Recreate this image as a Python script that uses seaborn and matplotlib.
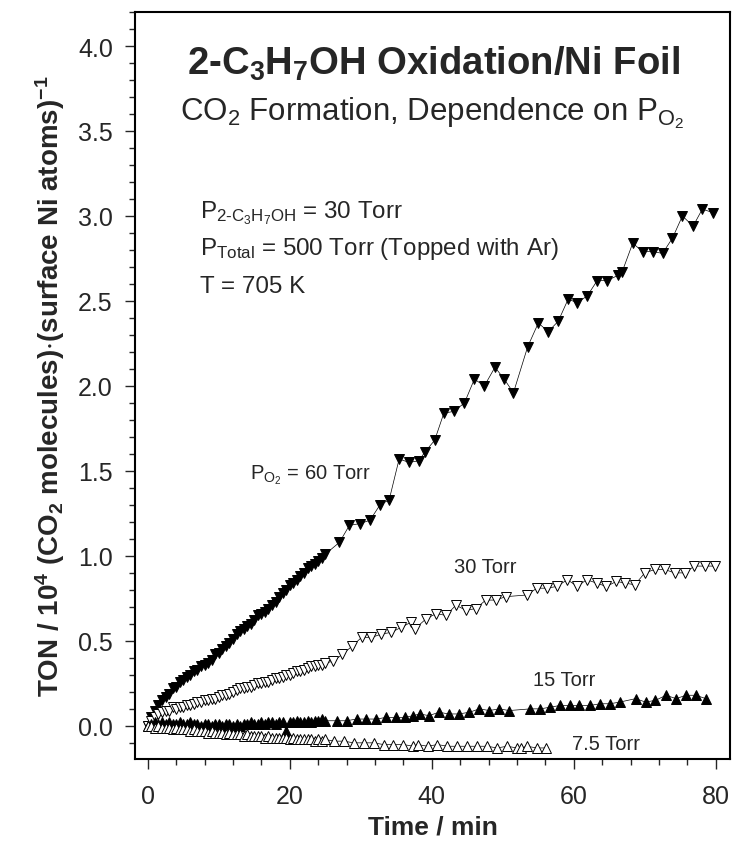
import pandas as pd
import matplotlib
matplotlib.use("Agg")
import matplotlib.pyplot as plt
import seaborn as sns
from matplotlib.ticker import MultipleLocator

# --- data (time in min, TON / 10^4) ---
t_dense = [0.0, 0.5, 1.0, 1.5, 2.0, 2.5, 3.0, 3.5, 4.0, 4.5, 5.0, 5.5, 6.0, 6.5, 7.0, 7.5,
           8.0, 8.5, 9.0, 9.5, 10.0, 10.5, 11.0, 11.5, 12.0, 12.5, 13.0, 13.5, 14.0, 14.5,
           15.0, 15.5, 16.0, 16.5, 17.0, 17.5, 18.0, 18.5, 19.0, 19.5, 20.0, 20.5, 21.0,
           21.5, 22.0, 22.5, 23.0, 23.5, 24.0, 24.5, 25.0]

# 60 Torr O2
v60_dense = [0.00, 0.05, 0.09, 0.12, 0.15, 0.17, 0.19, 0.22, 0.23, 0.26, 0.27, 0.29, 0.30, 0.32,
             0.33, 0.35, 0.36, 0.37, 0.39, 0.42, 0.43, 0.45, 0.47, 0.49, 0.51, 0.54, 0.56, 0.57,
             0.59, 0.60, 0.62, 0.65, 0.66, 0.67, 0.69, 0.71, 0.73, 0.76, 0.78, 0.80, 0.83, 0.84,
             0.86, 0.88, 0.90, 0.93, 0.94, 0.95, 0.97, 0.99, 1.01]
t60_late = [27.0, 28.4, 29.9, 31.3, 32.7, 34.0, 35.4, 36.8, 38.2, 39.0, 40.4, 41.7, 43.1, 44.6,
            46.0, 47.4, 48.9, 50.2, 51.5, 53.5, 55.0, 56.4, 57.8, 59.2, 60.5, 61.9, 63.3, 64.7,
            66.2, 66.8, 68.3, 69.7, 71.1, 72.5, 73.9, 75.3, 76.8, 78.1, 79.6]
v60_late = [1.08, 1.18, 1.19, 1.21, 1.30, 1.33, 1.57, 1.55, 1.56, 1.61, 1.68, 1.84, 1.85, 1.90,
            2.04, 2.00, 2.11, 2.04, 1.96, 2.23, 2.37, 2.32, 2.38, 2.51, 2.49, 2.53, 2.62, 2.62,
            2.65, 2.67, 2.84, 2.79, 2.79, 2.78, 2.87, 3.00, 2.94, 3.04, 3.02]

# 30 Torr O2
v30_dense = [0.00, 0.03, 0.05, 0.07, 0.08, 0.09, 0.09, 0.11, 0.10, 0.11, 0.11, 0.12, 0.12, 0.13,
             0.14, 0.14, 0.15, 0.15, 0.16, 0.16, 0.17, 0.18, 0.18, 0.19, 0.20, 0.21, 0.22, 0.22,
             0.23, 0.23, 0.24, 0.25, 0.25, 0.26, 0.26, 0.27, 0.28, 0.28, 0.29, 0.30, 0.30, 0.31,
             0.32, 0.32, 0.33, 0.34, 0.35, 0.35, 0.36, 0.36, 0.37]
t30_late = [26.1, 27.4, 28.8, 30.1, 31.5, 32.9, 34.3, 35.7, 37.1, 37.6, 39.2, 40.6, 42.0, 43.4,
            44.8, 46.2, 47.6, 49.0, 50.4, 53.4, 54.8, 56.2, 57.6, 59.1, 60.5, 61.8, 63.2, 64.6,
            66.0, 67.2, 68.6, 70.0, 71.4, 72.8, 74.2, 75.6, 77.0, 78.5, 79.9]
v30_late = [0.38, 0.42, 0.47, 0.52, 0.52, 0.54, 0.55, 0.58, 0.61, 0.57, 0.63, 0.66, 0.65, 0.71,
            0.68, 0.69, 0.74, 0.74, 0.76, 0.77, 0.81, 0.81, 0.82, 0.86, 0.82, 0.86, 0.84, 0.82,
            0.85, 0.84, 0.83, 0.90, 0.92, 0.92, 0.90, 0.90, 0.94, 0.94, 0.94]

# 15 Torr O2
v15_dense = [0.00, 0.01, 0.02, 0.01, 0.02, 0.01, 0.02, 0.01, 0.01, 0.02, 0.01, 0.01, 0.02, 0.01,
             0.01, 0.00, 0.01, 0.01, 0.00, 0.01, 0.01, 0.00, 0.01, 0.01, 0.00, 0.01, 0.00, 0.01,
             0.01, 0.02, 0.01, 0.01, 0.02, 0.01, 0.02, 0.02, 0.01, 0.02, 0.02, -0.03, 0.02, 0.02,
             0.03, 0.02, 0.02, 0.03, 0.02, 0.03, 0.03, 0.04, 0.03]
t15_late = [26.6, 28.0, 29.4, 30.8, 32.2, 33.6, 35.0, 36.2, 37.4, 38.3, 39.6, 41.0, 42.4, 43.8,
            45.3, 46.7, 48.1, 49.5, 50.9, 53.9, 55.3, 56.7, 58.1, 59.5, 60.8, 62.3, 63.7, 65.1,
            66.5, 68.7, 70.1, 71.5, 73.0, 74.4, 75.8, 77.2, 78.6]
v15_late = [0.03, 0.03, 0.04, 0.04, 0.04, 0.05, 0.05, 0.05, 0.06, 0.07, 0.06, 0.08, 0.07, 0.07,
            0.08, 0.10, 0.09, 0.10, 0.09, 0.10, 0.10, 0.11, 0.12, 0.12, 0.12, 0.12, 0.13, 0.13,
            0.14, 0.16, 0.14, 0.15, 0.18, 0.16, 0.18, 0.18, 0.16]

# 7.5 Torr O2
v75_dense = [0.00, 0.00, -0.01, 0.00, -0.01, -0.01, -0.01, -0.02, -0.01, -0.02, -0.02, -0.02,
             -0.03, -0.02, -0.03, -0.03, -0.03, -0.04, -0.03, -0.04, -0.04, -0.04, -0.05, -0.04,
             -0.05, -0.05, -0.05, -0.06, -0.05, -0.06, -0.06, -0.06, -0.06, -0.07, -0.06, -0.07,
             -0.07, -0.07, -0.07, -0.07, -0.08, -0.07, -0.08, -0.08, -0.08, -0.08, -0.08, -0.09,
             -0.08, -0.09, -0.08]
t75_late = [26.2, 27.6, 29.0, 30.4, 31.8, 33.2, 34.6, 36.0, 37.4, 38.0, 39.4, 40.8, 42.2, 43.6,
            45.0, 46.4, 47.8, 49.2, 50.6, 52.0, 52.6, 53.4, 54.8, 56.1]
v75_late = [-0.09, -0.09, -0.10, -0.10, -0.10, -0.11, -0.11, -0.11, -0.12, -0.11, -0.12, -0.11,
            -0.12, -0.12, -0.12, -0.12, -0.12, -0.13, -0.12, -0.13, -0.13, -0.12, -0.13, -0.13]

x_ticks = [0, 20, 40, 60, 80]
y_ticks = [0.0, 0.5, 1.0, 1.5, 2.0, 2.5, 3.0, 3.5, 4.0]

sns.set_style("ticks")
plt.rcParams['font.family'] = ['Liberation Sans', 'DejaVu Sans']
plt.rcParams['mathtext.fontset'] = 'custom'
plt.rcParams['mathtext.rm'] = 'Liberation Sans'
plt.rcParams['mathtext.bf'] = 'Liberation Sans:bold'
plt.rcParams['mathtext.default'] = 'regular'

fig = plt.figure(figsize=(7.33, 8.45), dpi=100)
ax = fig.add_axes([0.1842, 0.1006, 0.8117, 0.884])

series = [
    (v60_dense, t60_late, v60_late, 'v', 'black'),
    (v30_dense, t30_late, v30_late, 'v', 'white'),
    (v15_dense, t15_late, v15_late, '^', 'black'),
    (v75_dense, t75_late, v75_late, '^', 'white'),
]
for v_dense, t_late, v_late, mk, face in series:
    df = pd.DataFrame({'t': t_dense + t_late, 'v': v_dense + v_late})
    sns.lineplot(data=df, x='t', y='v', ax=ax, estimator=None, sort=False,
                 color='black', lw=0.5, marker=mk, markersize=6.5,
                 markerfacecolor=face, markeredgecolor='black', mew=0.7)

ax.set_xlim(-1.8, 82)
ax.set_ylim(-0.195, 4.2)
ax.set_xticks(x_ticks)
ax.set_yticks(y_ticks)
ax.set_yticklabels([f"{v:.1f}" for v in y_ticks])
ax.xaxis.set_minor_locator(MultipleLocator(4))
ax.yaxis.set_minor_locator(MultipleLocator(0.1))
ax.tick_params(which='major', direction='out', length=7, width=1.0, labelsize=18)
ax.tick_params(axis='x', which='major', pad=11)
ax.tick_params(axis='y', which='major', pad=9)
ax.tick_params(which='minor', direction='out', length=4, width=1.0)
for s in ax.spines.values():
    s.set_linewidth(1.5)
    s.set_color('black')

ax.set_xlabel('Time / min', fontsize=19, fontweight='bold', labelpad=5)
ax.set_ylabel('TON / 10$^{4}$ (CO$_{2}$ molecules)$\\cdot$(surface Ni atoms)$^{-1}$',
              fontsize=20, fontweight='bold', labelpad=8)

ax.text(40.2, 3.9, '2-C$_{3}$H$_{7}$OH Oxidation/Ni Foil', fontsize=27.5, fontweight='bold',
        ha='center', va='center')
ax.text(40, 3.61, 'CO$_{2}$ Formation, Dependence on P$_{O_2}$', fontsize=22.5,
        ha='center', va='center')
ax.text(7.3, 3.02, 'P$_{2\\text{-}C_3H_7OH}$ = 30 Torr', fontsize=17.4, ha='left', va='center')
ax.text(7.3, 2.81, 'P$_{Total}$ = 500 Torr (Topped with Ar)', fontsize=17.4, ha='left', va='center')
ax.text(7.3, 2.59, 'T = 705 K', fontsize=17.4, ha='left', va='center')

ax.text(14.4, 1.48, 'P$_{O_2}$ = 60 Torr', fontsize=14.5, ha='left', va='center')
ax.text(47.5, 0.94, '30 Torr', fontsize=14.5, ha='center', va='center')
ax.text(58.7, 0.27, '15 Torr', fontsize=14.5, ha='center', va='center')
ax.text(64.6, -0.106, '7.5 Torr', fontsize=14.5, ha='center', va='center')

fig.savefig('out.png', dpi=100)
